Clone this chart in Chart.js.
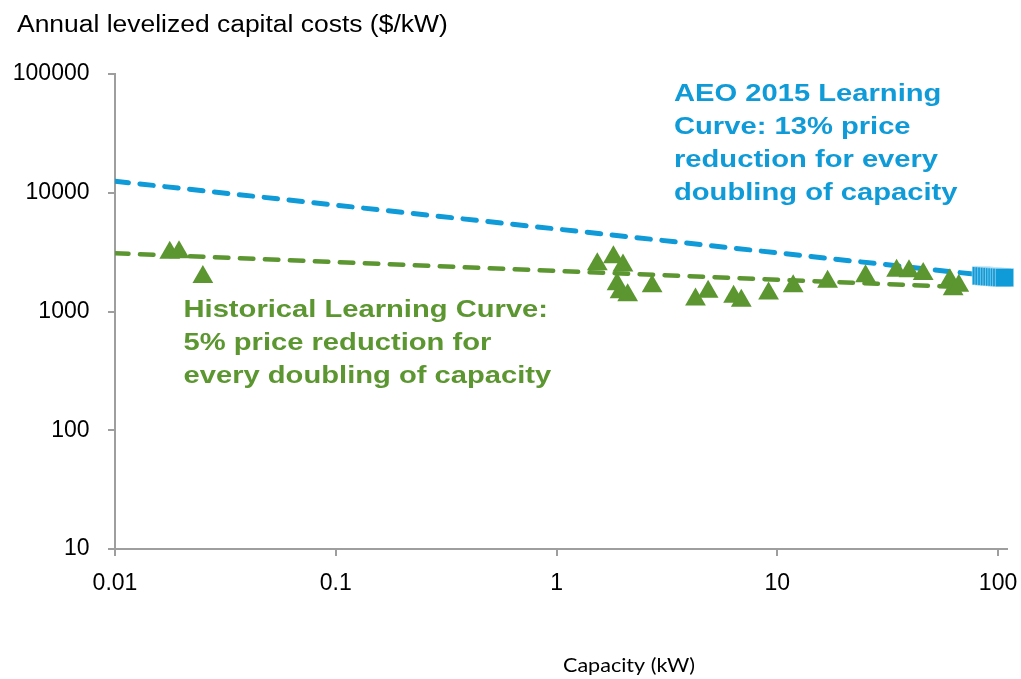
<!DOCTYPE html>
<html>
<head>
<meta charset="utf-8">
<script src="https://cdn.jsdelivr.net/npm/chart.js@4.4.1/dist/chart.umd.min.js"></script>
<style>
  html, body { margin: 0; padding: 0; background: #fff; }
</style>
</head>
<body>
<canvas id="chart" width="1021" height="679"></canvas>
<script>
// historical installations: capacity (kW) and annual levelized capital cost ($/kW)
const histCapacity = [0.0177, 0.0195, 0.025, 1.53, 1.81, 2.0, 1.88, 1.94, 2.1, 2.71, 4.26, 4.86, 6.34, 6.87, 9.13, 11.8, 16.9, 25.1, 34.7, 39.5, 45.8, 60.5, 62.6, 66.4];
const histCost = [3120, 3150, 1950, 2500, 2870, 2440, 1700, 1450, 1370, 1630, 1260, 1470, 1330, 1230, 1420, 1630, 1780, 1980, 2200, 2180, 2070, 1830, 1540, 1650];

// AEO 2015 points
const aeoCapacity = [84, 86.5, 89, 91.5, 94, 96.5, 99, 101.5, 104, 107];
const aeoCost = [2000, 1990, 1980, 1970, 1965, 1955, 1950, 1945, 1935, 1930];

// learning curve end points (straight lines on log-log axes)
const histFitCapacity = [0.01, 70];
const histFitCost = [3090, 1600];
const aeoFitCapacity = [0.01, 110];
const aeoFitCost = [12500, 1925];

const xTickValues = [0.01, 0.1, 1, 10, 100];
const xTickLabels = ['0.01', '0.1', '1', '10', '100'];
const yTickValues = [10, 100, 1000, 10000, 100000];
const yTickLabels = ['10', '100', '1000', '10000', '100000'];

const BLUE = '#0f9ad8';
const GREEN = '#5b9630';
const AXIS = '#9e9e9e';

const pts = (xs, ys) => xs.map((x, i) => ({ x: x, y: ys[i] }));

// draws text horizontally stretched by sx
function wideText(ctx, text, x, y, sx) {
    ctx.save();
    ctx.translate(x, y);
    ctx.scale(sx, 1);
    ctx.fillText(text, 0, 0);
    ctx.restore();
}

const textPlugin = {
    id: 'textLabels',
    afterDraw(chart) {
        const ctx = chart.ctx;
        ctx.save();
        ctx.textAlign = 'left';
        ctx.textBaseline = 'alphabetic';

        ctx.fillStyle = '#000';
        ctx.font = '23px "Liberation Sans", Arial, sans-serif';
        wideText(ctx, 'Annual levelized capital costs ($/kW)', 17, 32, 1.15);

        ctx.font = 'bold 24.5px "Liberation Sans", Arial, sans-serif';
        ctx.fillStyle = BLUE;
        ['AEO 2015 Learning', 'Curve: 13% price', 'reduction for every', 'doubling of capacity']
            .forEach((t, i) => wideText(ctx, t, 674, 101 + i * 33, 1.19));

        ctx.fillStyle = GREEN;
        ['Historical Learning Curve:', '5% price reduction for', 'every doubling of capacity']
            .forEach((t, i) => wideText(ctx, t, 183.5, 317 + i * 33, 1.19));

        ctx.fillStyle = '#000';
        ctx.font = '20px Lato, "Open Sans", sans-serif';
        const w = ctx.measureText('Capacity (kW)').width;
        wideText(ctx, 'Capacity (kW)', 563, 672, 132 / w);
        ctx.restore();
    }
};

new Chart(document.getElementById('chart'), {
    type: 'scatter',
    data: {
        datasets: [{
            label: 'Historical',
            data: pts(histCapacity, histCost),
            pointStyle: 'triangle',
            pointRadius: 12,
            pointBackgroundColor: GREEN,
            pointBorderWidth: 0,
            order: 1
        }, {
            label: 'AEO 2015',
            data: pts(aeoCapacity, aeoCost),
            pointStyle: 'rect',
            pointRadius: 13,
            pointBackgroundColor: BLUE,
            pointBorderColor: 'rgba(255,255,255,0.55)',
            pointBorderWidth: 0.8,
            clip: false,
            order: 2
        }, {
            label: 'Historical Learning Curve',
            type: 'line',
            data: pts(histFitCapacity, histFitCost),
            borderColor: GREEN,
            borderWidth: 4.5,
            borderDash: [13.5, 11.5],
            borderCapStyle: 'round',
            pointRadius: 0,
            order: 3
        }, {
            label: 'AEO 2015 Learning Curve',
            type: 'line',
            data: pts(aeoFitCapacity, aeoFitCost),
            borderColor: BLUE,
            borderWidth: 5,
            borderDash: [13.5, 11.5],
            borderCapStyle: 'round',
            pointRadius: 0,
            order: 4
        }]
    },
    options: {
        responsive: false,
        animation: false,
        layout: { padding: { left: 0, top: 74, right: 12, bottom: 70 } },
        plugins: {
            legend: { display: false },
            tooltip: { enabled: false },
            title: { display: false }
        },
        scales: {
            x: {
                type: 'logarithmic',
                min: 0.01,
                max: 110,
                afterBuildTicks: (s) => { s.ticks = xTickValues.map(v => ({ value: v })); },
                afterFit: (s) => { s.height = 60; s.paddingLeft = 0; s.paddingRight = 0; },
                ticks: {
                    autoSkip: false,
                    maxRotation: 0,
                    padding: 13.5,
                    color: '#000',
                    font: { family: '"Liberation Sans", Arial, sans-serif', size: 23 },
                    callback: (v) => {
                        const i = xTickValues.findIndex(t => Math.abs(t - v) < t * 1e-6);
                        return i >= 0 ? xTickLabels[i] : '';
                    }
                },
                grid: { drawOnChartArea: false, drawTicks: true, tickLength: 7, color: AXIS, lineWidth: 2 },
                border: { display: true, color: AXIS, width: 2 }
            },
            y: {
                type: 'logarithmic',
                min: 10,
                max: 100000,
                afterBuildTicks: (s) => { s.ticks = yTickValues.map(v => ({ value: v })); },
                afterFit: (s) => { s.width = 115; },
                ticks: {
                    autoSkip: false,
                    padding: 18.5,
                    color: '#000',
                    font: { family: '"Liberation Sans", Arial, sans-serif', size: 23 },
                    callback: (v) => {
                        const i = yTickValues.findIndex(t => Math.abs(t - v) < t * 1e-6);
                        return i >= 0 ? yTickLabels[i] : '';
                    }
                },
                grid: { drawOnChartArea: false, drawTicks: true, tickLength: 7, color: AXIS, lineWidth: 2 },
                border: { display: true, color: AXIS, width: 2 }
            }
        }
    },
    plugins: [textPlugin]
});
</script>
</body>
</html>
